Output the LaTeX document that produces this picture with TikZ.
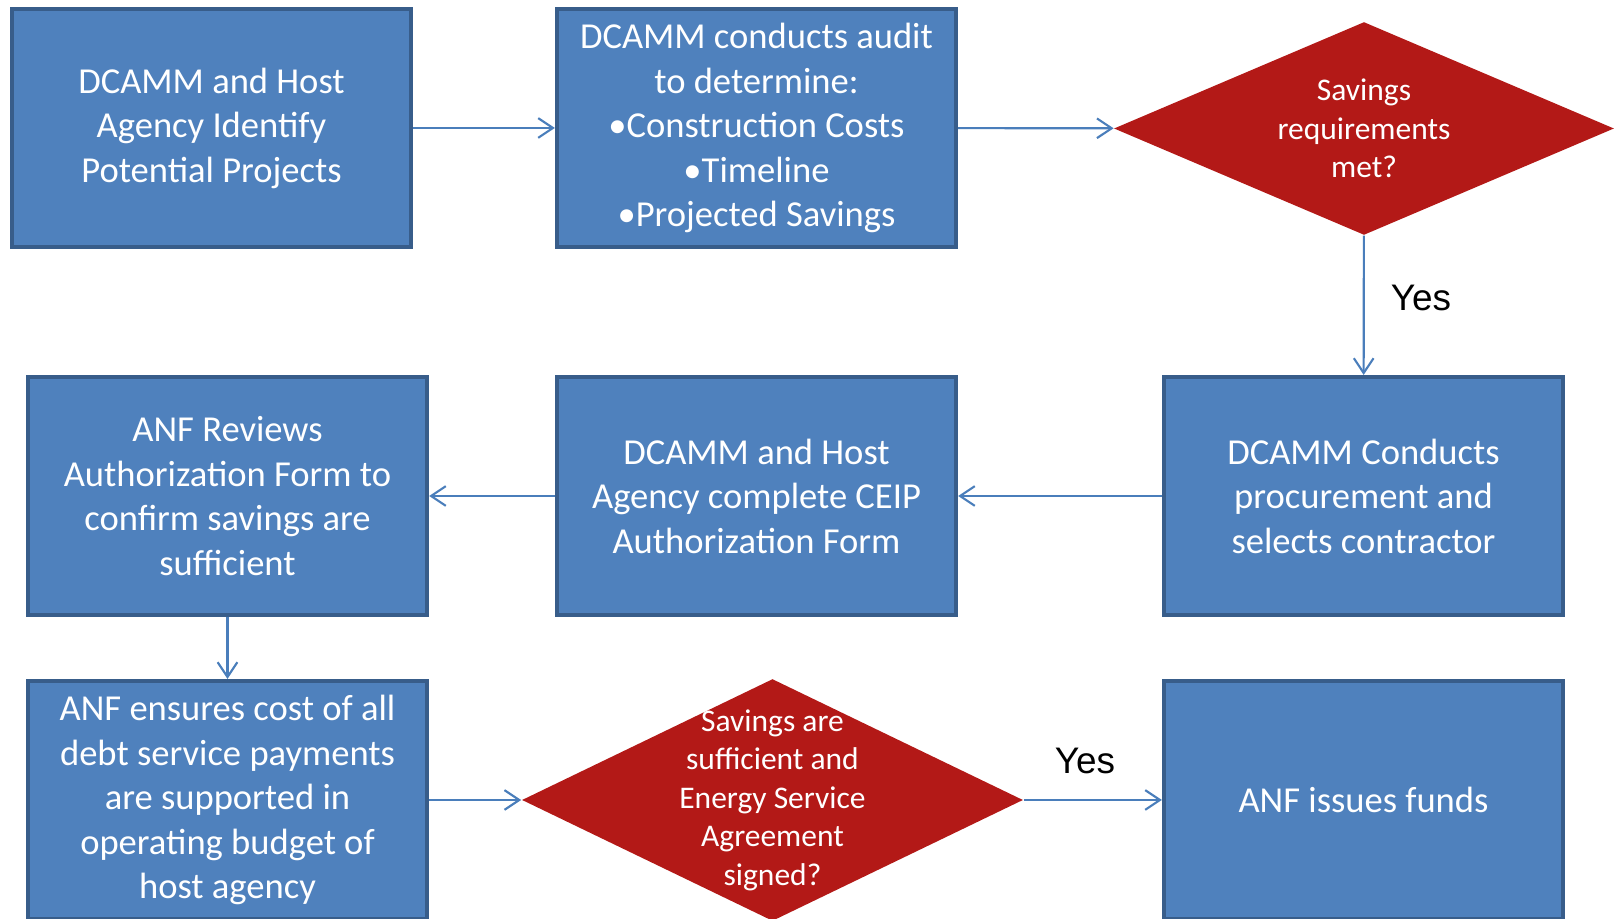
\documentclass[tikz,border=0pt]{standalone}
\usepackage{fontspec}
\setmainfont{Carlito}
\newfontfamily\yesfont{Liberation Sans}
\usetikzlibrary{shapes.geometric,arrows.meta}
\definecolor{boxfill}{RGB}{79,129,189}
\definecolor{boxedge}{RGB}{56,93,138}
\definecolor{flowline}{RGB}{74,126,187}
\definecolor{queryred}{RGB}{179,25,23}
\tikzset{>={Straight Barb[length=4.2pt,width=5.6pt]}}
\tikzset{
  stepbox/.style={draw=boxedge,fill=boxfill,line width=1.15pt,minimum width=3.99cm,
      minimum height=2.38cm,text=white,align=center,font=\fontsize{10.4pt}{12.66pt}\selectfont},
  query/.style={diamond,fill=queryred,inner sep=0pt},
  querytext/.style={text=white,align=center,font=\fontsize{8.96pt}{10.95pt}\selectfont},
  flow/.style={->,draw=flowline,line width=0.6pt},
  yeslabel/.style={font=\yesfont\fontsize{10.5pt}{12pt}\selectfont}
}

\begin{document}
\begin{tikzpicture}[x=0.01cm,y=-0.01cm]
    \useasboundingbox (0,0) rectangle (1620,919);
    % top row
    \node[stepbox] (identify) at (211.5,128) {DCAMM and Host\\Agency Identify\\Potential Projects};
    \node[stepbox] (audit) at (756.5,128) {DCAMM conducts audit\\to determine:\\•Construction Costs\\•Timeline\\•Projected Savings};
    \node[query,minimum width=5cm,minimum height=2.13cm] (q1) at (1364,128.5) {};
    \node[querytext] (q1text) at (q1) {Savings\\requirements\\met?};
    % middle row
    \node[stepbox] (procure) at (1363.5,496) {DCAMM Conducts\\procurement and\\selects contractor};
    \node[stepbox] (ceip) at (756.5,496) {DCAMM and Host\\Agency complete CEIP\\Authorization Form};
    \node[stepbox] (review) at (227.5,496) {ANF Reviews\\Authorization Form to\\confirm savings are\\sufficient};
    % bottom row
    \node[stepbox] (ensure) at (227.5,800) {ANF ensures cost of all\\debt service payments\\are supported in\\operating budget of\\host agency};
    \node[query,minimum width=5.01cm,minimum height=2.42cm] (q2) at (772.5,800) {};
    \node[querytext] (q2text) at (q2) {Savings are\\sufficient and\\Energy Service\\Agreement\\signed?};
    \node[stepbox] (funds) at (1363.5,800) {ANF issues funds};

    \foreach \from/\to in {identify/audit,audit/q1,q1/procure,procure/ceip,ceip/review,review/ensure,ensure/q2,q2/funds}
        \draw[flow] (\from) -- (\to);

    \node[yeslabel] (yes1) at (1421,298) {Yes};
    \node[yeslabel] (yes2) at (1085,761) {Yes};
\end{tikzpicture}
\end{document}
